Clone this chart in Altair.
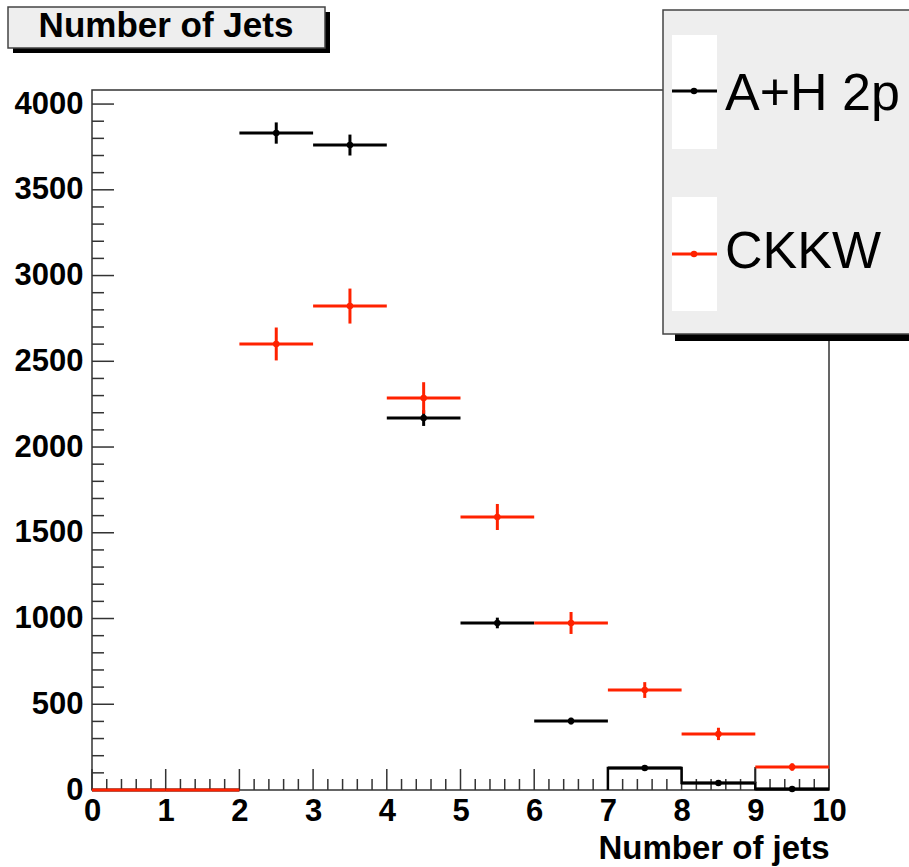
import altair as alt
import pandas as pd

# ---------------- data ----------------
bin_lo = [0, 1, 2, 3, 4, 5, 6, 7, 8, 9]
bin_hi = [1, 2, 3, 4, 5, 6, 7, 8, 9, 10]
ah2p_counts = [0, 0, 3831, 3761, 2169, 974, 402, 128, 41, 6]
ah2p_err = [0, 0, 62, 61, 46, 31, 20, 11, 6, 3]
ckkw_counts = [0, 0, 2601, 2822, 2286, 1592, 974, 583, 327, 134]
ckkw_err = [0, 0, 96, 102, 92, 76, 64, 46, 36, 22]
series_names = ["A+H 2p", "CKKW"]
series_colors = ["#000000", "#ff2200"]

x_major = [0, 1, 2, 3, 4, 5, 6, 7, 8, 9, 10]
x_minor = [round(i * 0.2, 1) for i in range(51) if i % 5 != 0]
y_major = [0, 500, 1000, 1500, 2000, 2500, 3000, 3500, 4000]
y_minor = [v for v in range(0, 4001, 100) if v % 500 != 0]

W, H = 737, 700
Y_TOP = 4082

xscale = alt.Scale(domain=[0, 10], nice=False, zero=False)
yscale = alt.Scale(domain=[0, Y_TOP], nice=False, zero=True)

xaxis = alt.Axis(values=x_major, ticks=False, domain=False, grid=False,
                 labelFont="Liberation Sans", labelFontSize=31,
                 labelFontWeight="bold", labelColor="black", labelPadding=6,
                 labelFlush=False, labelOverlap=False, format="d",
                 titleFont="Liberation Sans", titleFontSize=33, titleFontWeight="bold",
                 titleColor="black", titleAlign="right", titleX=W, titleY=68,
                 titleBaseline="alphabetic", titleAngle=0)
yaxis = alt.Axis(values=y_major, ticks=False, domain=False, grid=False,
                 labelFont="Liberation Sans", labelFontSize=31,
                 labelFontWeight="bold", labelColor="black", labelPadding=9,
                 labelFlush=False, labelOverlap=False, format="d", title=None)


def X(field):
    return alt.X(field, type="quantitative", scale=xscale, axis=xaxis, title="Number of jets")


def Y(field):
    return alt.Y(field, type="quantitative", scale=yscale, axis=yaxis, title=None)


one = pd.DataFrame({"a": [0]})

# ---------------- ticks (inward, ROOT style) ----------------
tick_col = "#333333"
ytick_major = alt.Chart(pd.DataFrame({"v": y_major})).mark_rule(color=tick_col, strokeWidth=1.5).encode(
    y=Y("v"), x=alt.value(0), x2=alt.value(22))
ytick_minor = alt.Chart(pd.DataFrame({"v": y_minor})).mark_rule(color=tick_col, strokeWidth=1.5).encode(
    y=Y("v"), x=alt.value(0), x2=alt.value(12))
xtick_major = alt.Chart(pd.DataFrame({"v": x_major})).mark_rule(color=tick_col, strokeWidth=1.5).encode(
    x=X("v"), y=alt.value(H), y2=alt.value(H - 21))
xtick_minor = alt.Chart(pd.DataFrame({"v": x_minor})).mark_rule(color=tick_col, strokeWidth=1.5).encode(
    x=X("v"), y=alt.value(H), y2=alt.value(H - 11))


# ---------------- series ----------------
def series_layers(counts, errs, color):
    df = pd.DataFrame({
        "lo": bin_lo, "hi": bin_hi,
        "mid": [(a + b) / 2 for a, b in zip(bin_lo, bin_hi)],
        "val": counts,
        "elo": [c - e for c, e in zip(counts, errs)],
        "ehi": [c + e for c, e in zip(counts, errs)],
    })
    hbar = alt.Chart(df).mark_rule(color=color, strokeWidth=3).encode(
        x=X("lo"), x2="hi:Q", y=Y("val"))
    ebar = alt.Chart(df[df.val > 0]).mark_rule(color=color, strokeWidth=3).encode(
        x=X("mid"), y=Y("elo"), y2="ehi:Q")
    pts = alt.Chart(df[df.val > 0]).mark_circle(color=color, size=42, opacity=1).encode(
        x=X("mid"), y=Y("val"))
    return [hbar, ebar, pts]


# black histogram outline for the last bins (drawn by ROOT where errors are tiny)
step_df = pd.DataFrame({
    "x": [bin_lo[7]] + bin_lo[7:] + [bin_hi[9]],
    "y": [0] + ah2p_counts[7:] + [ah2p_counts[9]],
})
step = alt.Chart(step_df).mark_line(color="black", strokeWidth=2.5, interpolate="step-after").encode(
    x=X("x"), y=Y("y"))
conn_df = pd.DataFrame({"x": [bin_lo[9]], "y": [ah2p_counts[8]], "y2": [ckkw_counts[9]]})
conn = alt.Chart(conn_df).mark_rule(color="#222222", strokeWidth=2).encode(
    x=X("x"), y=Y("y"), y2="y2:Q")

black_layers = series_layers(ah2p_counts, ah2p_err, series_colors[0])
red_layers = series_layers(ckkw_counts, ckkw_err, series_colors[1])

# ---------------- title box ----------------
title_shadow = alt.Chart(one).mark_rect(color="black").encode(
    x=alt.value(-79), x2=alt.value(238), y=alt.value(-78), y2=alt.value(-37))
title_box = alt.Chart(one).mark_rect(fill="#eeeeee", stroke="#444444", strokeWidth=1.5).encode(
    x=alt.value(-84), x2=alt.value(233), y=alt.value(-83), y2=alt.value(-42))
title_text = alt.Chart(one).mark_text(text="Number of Jets", font="Liberation Sans", fontSize=35,
                                      fontWeight="bold", color="black", align="center",
                                      baseline="alphabetic").encode(
    x=alt.value(74), y=alt.value(-53))

# ---------------- legend ----------------
leg_shadow = alt.Chart(one).mark_rect(color="black").encode(
    x=alt.value(583), x2=alt.value(840), y=alt.value(244), y2=alt.value(251))
leg_box = alt.Chart(one).mark_rect(fill="#eeeeee", stroke="#444444", strokeWidth=1.5).encode(
    x=alt.value(571), x2=alt.value(840), y=alt.value(-80), y2=alt.value(244))
legend_layers = [leg_shadow, leg_box]
leg_rows = [(-55, 59, 1, 20), (107, 221, 164, 178)]
for (r0, r1, ly, ty), name, col in zip(leg_rows, series_names, series_colors):
    legend_layers.append(alt.Chart(one).mark_rect(color="white").encode(
        x=alt.value(580), x2=alt.value(625), y=alt.value(r0), y2=alt.value(r1)))
    legend_layers.append(alt.Chart(one).mark_rule(color=col, strokeWidth=3).encode(
        x=alt.value(580), x2=alt.value(625), y=alt.value(ly)))
    legend_layers.append(alt.Chart(one).mark_circle(color=col, size=42, opacity=1).encode(
        x=alt.value(602), y=alt.value(ly)))
    legend_layers.append(alt.Chart(one).mark_text(text=name, font="Liberation Sans", fontSize=52,
                                                  color="black", align="left",
                                                  baseline="alphabetic").encode(
        x=alt.value(633), y=alt.value(ty)))

chart = alt.layer(
    ytick_major, ytick_minor, xtick_major, xtick_minor,
    step, *black_layers, conn, *red_layers,
    title_shadow, title_box, title_text,
    *legend_layers,
).properties(
    width=W, height=H,
    padding={"left": 92, "top": 90, "right": 80, "bottom": 77},
    autosize=alt.AutoSizeParams(type="none"),
    background="white",
).configure_view(stroke="#333333", strokeWidth=1.5)

chart.save("out.html", embed_options={"renderer": "svg", "actions": False})
